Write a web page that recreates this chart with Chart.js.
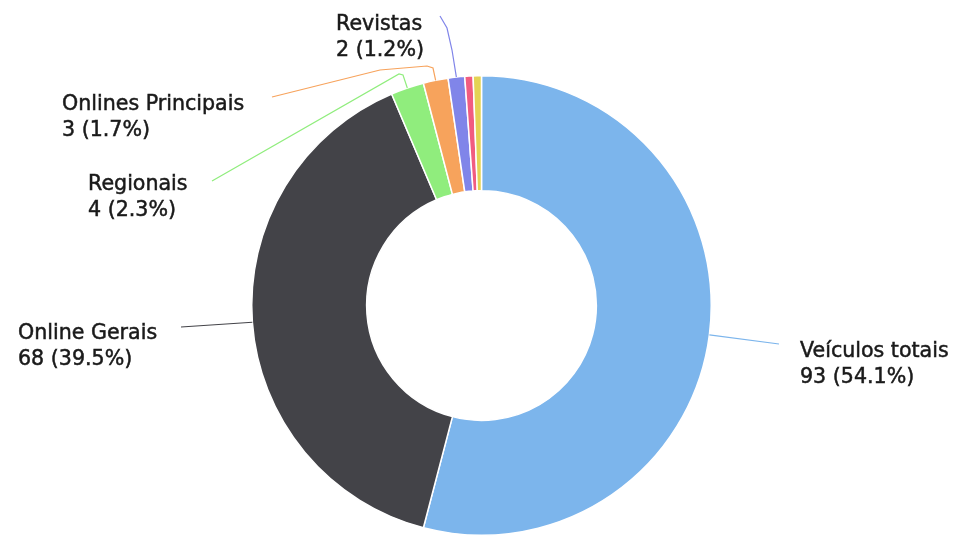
<!DOCTYPE html>
<html>
<head>
<meta charset="utf-8">
<script src="https://cdn.jsdelivr.net/npm/chart.js@4/dist/chart.umd.min.js"></script>
<style>
html,body{margin:0;padding:0;background:#fff;}
#wrap{width:958px;height:536px;position:relative;}
</style>
</head>
<body>
<div id="wrap"><canvas id="c" width="958" height="536"></canvas></div>
<script>
const categories = ["Veículos totais", "Online Gerais", "Regionais", "Onlines Principais", "Revistas", "Outros A", "Outros B"];
const values = [93, 68, 4, 3, 2, 1, 1];
const colors = ["#7cb5ec", "#434348", "#90ed7d", "#f7a35c", "#8085e9", "#f15c80", "#e4d354"];
const showLabel = [true, true, true, true, true, false, false];

// Layout of data labels (positions only): text left x, first line baseline y, connector path points after the arc edge
const labelLayout = [
  {tx: 800, ty: 357, path: [[779, 344]]},
  {tx: 18,  ty: 339, path: [[181, 327]]},
  {tx: 88,  ty: 190, path: [[403, 75], [399, 74], [212, 181]]},
  {tx: 62,  ty: 110, path: [[433, 68], [427, 66], [380, 70], [272, 97]]},
  {tx: 336, ty: 30,  path: [[452, 50], [447, 28], [440, 16]]}
];

const total = values.reduce((a, b) => a + b, 0);

const labelPlugin = {
  id: 'pieLabels',
  afterDatasetsDraw(chart) {
    const ctx = chart.ctx;
    const meta = chart.getDatasetMeta(0);
    let li = 0;
    meta.data.forEach((arc, i) => {
      if (!showLabel[i]) return;
      const lay = labelLayout[li++];
      const mid = (arc.startAngle + arc.endAngle) / 2;
      const sx = arc.x + Math.cos(mid) * arc.outerRadius;
      const sy = arc.y + Math.sin(mid) * arc.outerRadius;
      ctx.save();
      ctx.strokeStyle = colors[i];
      ctx.lineWidth = 1.2;
      ctx.beginPath();
      ctx.moveTo(sx, sy);
      lay.path.forEach(p => ctx.lineTo(p[0], p[1]));
      ctx.stroke();
      ctx.fillStyle = '#1a1a1a';
      ctx.strokeStyle = '#1a1a1a';
      ctx.lineWidth = 0.5;
      ctx.font = '20.6px "DejaVu Sans", sans-serif';
      ctx.textBaseline = 'alphabetic';
      ctx.textAlign = 'left';
      const v = values[i];
      const l1 = categories[i];
      const l2 = v + ' (' + (v / total * 100).toFixed(1) + '%)';
      ctx.fillText(l1, lay.tx, lay.ty);
      ctx.strokeText(l1, lay.tx, lay.ty);
      ctx.fillText(l2, lay.tx, lay.ty + 26);
      ctx.strokeText(l2, lay.tx, lay.ty + 26);
      ctx.restore();
    });
  }
};

new Chart(document.getElementById('c'), {
  type: 'doughnut',
  data: {
    labels: categories,
    datasets: [{
      data: values,
      backgroundColor: colors,
      borderColor: '#ffffff',
      borderWidth: 1.5
    }]
  },
  options: {
    responsive: false,
    animation: false,
    cutout: '50%',
    layout: {padding: {top: 75, bottom: 0, left: 5, right: 0}},
    plugins: {legend: {display: false}, tooltip: {enabled: false}}
  },
  plugins: [labelPlugin]
});
</script>
</body>
</html>
